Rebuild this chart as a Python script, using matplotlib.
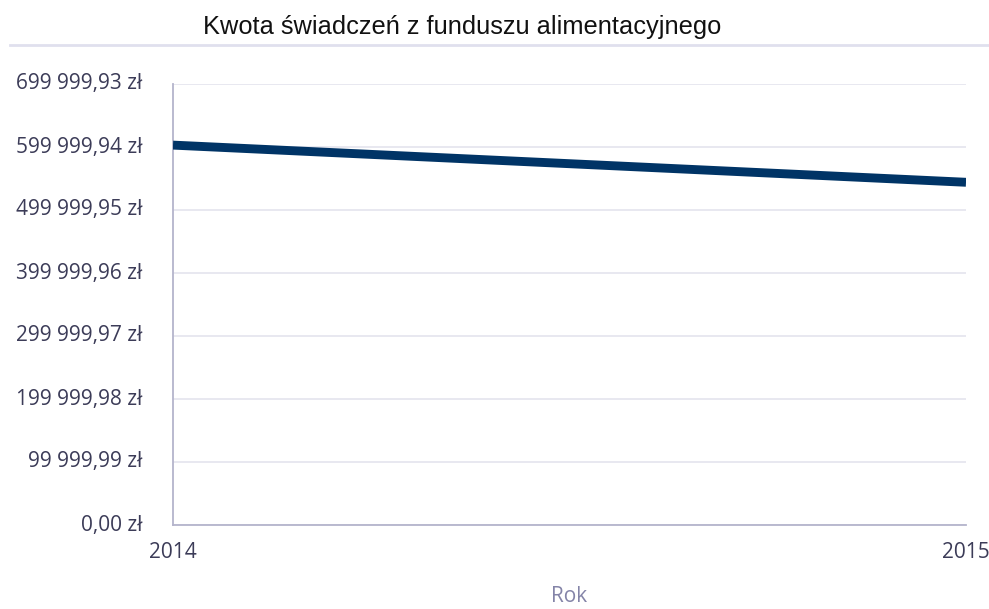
import matplotlib.pyplot as plt
from matplotlib.ticker import FuncFormatter

# Data
years = [2014, 2015]
amounts = [603000.0, 544000.0]
y_ticks = [0.00, 99999.99, 199999.98, 299999.97, 399999.96, 499999.95, 599999.94, 699999.93]

TITLE = "Kwota świadczeń z funduszu alimentacyjnego"
X_LABEL = "Rok"

LINE_COLOR = "#003466"
TEXT_COLOR = "#3c3c58"
GRID_COLOR = "#e4e4ee"
AXIS_COLOR = "#b4b4cc"


def pln(v, _pos=None):
    whole, frac = f"{v:.2f}".split(".")
    whole = f"{int(whole):,}".replace(",", " ")
    return f"{whole},{frac} zł"


fig = plt.figure(figsize=(9.89, 6.09), dpi=100)
ax = fig.add_axes([173 / 989, 84 / 609, (966 - 173) / 989, (525 - 84) / 609])

ax.plot(years, amounts, color=LINE_COLOR, linewidth=6.4, solid_capstyle="butt", zorder=3)

ax.set_xlim(years[0], years[-1])
ax.set_ylim(y_ticks[0], y_ticks[-1])
ax.set_xticks(years)
ax.set_xticklabels([str(y) for y in years])
ax.set_yticks(y_ticks)
ax.yaxis.set_major_formatter(FuncFormatter(pln))

ax.grid(axis="y", color=GRID_COLOR, linewidth=1.2)
ax.set_axisbelow(True)
for side in ("top", "right"):
    ax.spines[side].set_visible(False)
for side in ("left", "bottom"):
    ax.spines[side].set_color(AXIS_COLOR)
    ax.spines[side].set_linewidth(1.3)

ax.tick_params(axis="both", length=0, labelsize=15, labelcolor=TEXT_COLOR,
               labelfontfamily="Open Sans")
ax.tick_params(axis="y", pad=22)
ax.tick_params(axis="x", pad=12)
for lbl in ax.get_yticklabels():
    lbl.set_verticalalignment("center")

fig.text(569 / 989, 1 - 597 / 609, X_LABEL, ha="center", va="center",
         fontsize=15, color="#8484a8", fontfamily="Open Sans")

fig.text(462 / 989, 1 - 27 / 609, TITLE, ha="center", va="center",
         fontsize=18.3, fontfamily="Liberation Sans", color="#111111")
fig.add_artist(plt.Line2D([10 / 989, 1.0], [1 - 45 / 609] * 2, color="#e0e0ee",
                          linewidth=2, transform=fig.transFigure))

fig.savefig("out.png", dpi=100)
